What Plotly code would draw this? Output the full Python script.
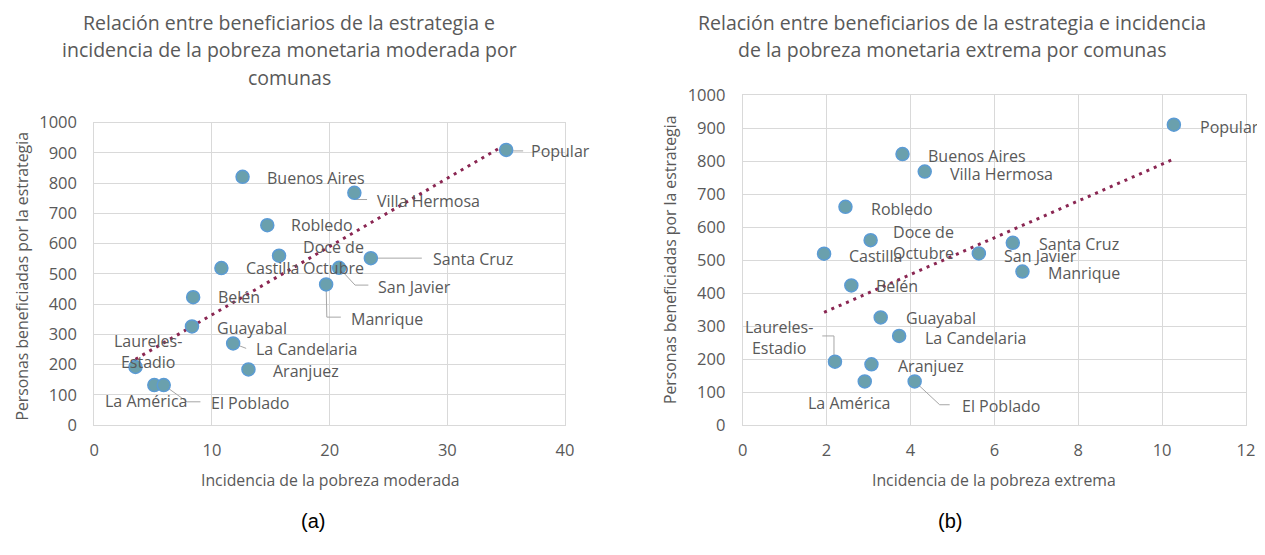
import numpy as np
import plotly.graph_objects as go

# ---------------- data ----------------
comunas = ["Popular", "Santa Cruz", "Manrique", "Villa Hermosa", "Aranjuez",
           "Castilla", "Doce de Octubre", "Robledo", "Buenos Aires",
           "La Candelaria", "Laureles-Estadio", "La América", "San Javier",
           "El Poblado", "Guayabal", "Belén"]
beneficiarios = [910, 552, 465, 768, 184, 519, 560, 661, 821, 270, 192, 132,
                 520, 132, 326, 423]
pobreza_moderada = [35.0, 23.5, 19.7, 22.1, 13.1, 10.8, 15.7, 14.7, 12.6,
                    11.8, 3.5, 5.1, 20.8, 5.9, 8.3, 8.4]
pobreza_extrema = [10.28, 6.44, 6.67, 4.34, 3.07, 1.94, 3.05, 2.45, 3.81,
                   3.73, 2.2, 2.91, 5.63, 4.1, 3.29, 2.59]

titulo_a = ["Relación entre beneficiarios de la estrategia e",
            "incidencia de la pobreza monetaria moderada por",
            "comunas"]
titulo_b = ["Relación entre beneficiarios de la estrategia e incidencia",
            "de la pobreza monetaria extrema por comunas"]
eje_y = "Personas beneficiadas por la estrategia"
eje_x_a = "Incidencia de la pobreza moderada"
eje_x_b = "Incidencia de la pobreza extrema"
display = {"Doce de Octubre": "Doce de<br>Octubre",
           "Laureles-Estadio": "Laureles-<br>Estadio"}

# ---------------- layout / styling ----------------
WIN_W, WIN_H = 1265, 555
OFF = 8                      # default page body margin
W, H = WIN_W - OFF, WIN_H - OFF
FONT = "Open Sans"
TXT = "#595959"
GRID = "#D9D9D9"
MFILL = "#6aa0ad"
MLINE = "#5b9bd5"
TREND = "#8a2652"
LEADER = "#A6A6A6"

# plot areas in window pixels: (left, right, top, bottom)
area_a = (94.3, 565.0, 122.7, 425.0)
area_b = (742.7, 1246.0, 95.0, 425.0)
range_a = (0, 40)
range_b = (0, 12)
range_y = (0, 1000)

# label placement: (anchor, dx_px, dy_px) relative to the marker (dy down)
lab_a = {
    "Buenos Aires": ("left", 22, 1), "Robledo": ("left", 22, 0),
    "Doce de Octubre": ("center", 54, 1.5), "Castilla": ("left", 23, 0),
    "Belén": ("left", 23, 0), "Guayabal": ("left", 23, 2),
    "La Candelaria": ("left", 21, 6), "Aranjuez": ("left", 23, 2),
    "Laureles-Estadio": ("center", 12.5, -15.7), "La América": ("center", -8, 16),
    "El Poblado": ("left", 45.7, 18), "Popular": ("left", 22.6, 1),
    "Villa Hermosa": ("left", 21, 8), "Santa Cruz": ("left", 60, 0.6),
    "San Javier": ("left", 37, 19), "Manrique": ("left", 23.3, 35),
}
lead_a = {
    "La Candelaria": [(0, 0), (13, 5)],
    "El Poblado": [(0, 0), (23.4, 16.7), (36.7, 16.7)],
    "Popular": [(0, 1), (17, 1)],
    "Villa Hermosa": [(0, 0), (0, 6.7), (12.7, 6.7)],
    "Santa Cruz": [(0, 0), (51, 0)],
    "San Javier": [(0, 0), (16, 17.3), (29.3, 17.3)],
    "Manrique": [(0, 0), (0.7, 32.7), (14.7, 32.7)],
}
lab_b = {
    "Buenos Aires": ("left", 23, 1.7), "Villa Hermosa": ("left", 23.3, 2.3),
    "Robledo": ("left", 23.3, 1.7), "Doce de Octubre": ("center", 53.3, 2),
    "Castilla": ("left", 23.4, 2), "Belén": ("left", 23, 0.3),
    "Guayabal": ("left", 23.3, 1), "La Candelaria": ("left", 23.4, 1.7),
    "Aranjuez": ("left", 24.3, 1.7), "Laureles-Estadio": ("center", -56, -23.7),
    "La América": ("center", -16, 21.7), "El Poblado": ("left", 45, 24.3),
    "Popular": ("left", 24, 2), "Santa Cruz": ("left", 23.7, 1.6),
    "San Javier": ("left", 22.7, 2.4), "Manrique": ("left", 24, 1.6),
}
lead_b = {
    "Laureles-Estadio": [(-1, 0), (-1, -25.7), (-12.7, -25.7)],
    "El Poblado": [(0, 0), (25, 23.3), (35, 23.3)],
}


def px(x):
    return (x - OFF) / W


def py(y):
    return 1 - (y - OFF) / H


def dom(area):
    l, r, t, b = area
    return [px(l), px(r)], [py(b), py(t)]


fig = go.Figure()


def add_panel(xs, xrange_, area, xa, ya, labs, leads):
    l, r, t, b = area
    sx = (r - l) / (xrange_[1] - xrange_[0])
    sy = (b - t) / (range_y[1] - range_y[0])
    # leader lines
    lx, ly = [], []
    for name, pts in leads.items():
        i = comunas.index(name)
        for (dx, dy) in pts:
            lx.append(xs[i] + dx / sx)
            ly.append(beneficiarios[i] - dy / sy)
        lx.append(None)
        ly.append(None)
    fig.add_trace(go.Scatter(x=lx, y=ly, mode="lines", xaxis=xa, yaxis=ya,
                             line=dict(color=LEADER, width=1),
                             hoverinfo="skip", showlegend=False))
    # linear trendline fitted from the data
    m, c = np.polyfit(xs, beneficiarios, 1)
    tx = np.array([min(xs), max(xs)])
    fig.add_trace(go.Scatter(x=tx, y=m * tx + c, mode="lines", xaxis=xa, yaxis=ya,
                             line=dict(color=TREND, width=3, dash="3px,5px"),
                             hoverinfo="skip", showlegend=False))
    # markers
    fig.add_trace(go.Scatter(x=xs, y=beneficiarios, mode="markers", xaxis=xa, yaxis=ya,
                             text=comunas, showlegend=False,
                             marker=dict(size=13, color=MFILL,
                                         line=dict(color=MLINE, width=1.5))))
    # labels
    for i, name in enumerate(comunas):
        anc, dx, dy = labs[name]
        fig.add_annotation(x=xs[i], y=beneficiarios[i], xref=xa, yref=ya,
                           text=display.get(name, name), showarrow=False,
                           xanchor=anc, yanchor="middle", xshift=dx, yshift=-dy,
                           font=dict(family=FONT, size=16, color=TXT))


add_panel(pobreza_moderada, range_a, area_a, "x", "y", lab_a, lead_a)
add_panel(pobreza_extrema, range_b, area_b, "x2", "y2", lab_b, lead_b)

dxa, dya = dom(area_a)
dxb, dyb = dom(area_b)
axis_common = dict(showgrid=True, gridcolor=GRID, gridwidth=1, zeroline=False,
                   showline=True, linecolor=GRID, linewidth=1, mirror=True,
                   ticks="outside", tickcolor="rgba(0,0,0,0)", automargin=False,
                   tickfont=dict(family=FONT, size=16.5, color=TXT))
fig.update_layout(
    width=W, height=H, autosize=False,
    margin=dict(l=0, r=0, t=0, b=0),
    paper_bgcolor="white", plot_bgcolor="white",
    xaxis=dict(domain=dxa, range=list(range_a), dtick=10, anchor="y", ticklen=10, **axis_common),
    yaxis=dict(domain=dya, range=list(range_y), dtick=100, anchor="x", ticklen=13, **axis_common),
    xaxis2=dict(domain=dxb, range=list(range_b), dtick=2, anchor="y2", ticklen=10, **axis_common),
    yaxis2=dict(domain=dyb, range=list(range_y), dtick=100, anchor="x2", ticklen=13, **axis_common),
)


def paper_text(text, x, y, size, color=TXT, family=FONT, angle=0):
    fig.add_annotation(x=px(x), y=py(y), xref="paper", yref="paper",
                       text=text, showarrow=False, xanchor="center", yanchor="middle",
                       textangle=angle, font=dict(family=family, size=size, color=color))


for k, line in enumerate(titulo_a):
    paper_text(line, 289, 22 + 27.5 * k, 19.5)
for k, line in enumerate(titulo_b):
    paper_text(line, 952, 22 + 27 * k, 19.5)

paper_text(eje_y, 21.5, 277, 15.8, angle=-90)
paper_text(eje_y, 670, 260, 15.8, angle=-90)
paper_text(eje_x_a, 330, 480, 15.8)
paper_text(eje_x_b, 994, 480, 15.8)
paper_text("(a)", 313, 521, 20, color="#000000", family="Liberation Sans, Arial")
paper_text("(b)", 950, 521, 20, color="#000000", family="Liberation Sans, Arial")

fig.write_html("out.html")
